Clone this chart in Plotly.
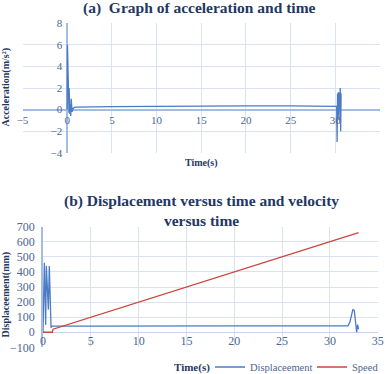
import plotly.graph_objects as go

W, H = 385, 374

# ---- data (a) acceleration ----
t_acc = [0.0, 0.03, 0.2, 0.22, 0.3, 0.35, 0.4, 0.45, 0.55, 0.65, 0.8, 1.0, 5.0, 10.0, 15.0, 20.0, 25.0, 30.0,
         30.15, 30.2, 30.25, 30.3, 30.35, 30.4, 30.45, 30.5, 30.55, 30.6, 30.65]
acc = [0.0, 6.0, -0.3, 2.0, -0.4, 0.5, -0.6, 1.0, -0.2, 0.1, 0.2, 0.22, 0.28, 0.32, 0.34, 0.35, 0.35, 0.33,
       0.3, -3.0, 1.5, -0.5, 1.6, -1.0, 1.6, 0.2, 2.0, -2.0, 1.5]

# ---- data (b) displacement and speed ----
t_disp = [0.0, 0.14, 0.28, 0.35, 0.56, 0.66, 0.84, 0.95, 5.0, 10.0, 15.0, 20.0, 25.0, 30.0, 31.9,
          32.1, 32.25, 32.4, 32.55, 32.65, 32.8, 32.9, 33.0]
disp = [0.0, 460, 50, 440, 150, 440, 30, 40, 40, 42, 42, 42, 42, 42, 42,
        70, 120, 150, 145, 90, 0, 50, 20]
t_speed = [0.0, 0.98, 1.05, 33.0]
speed = [0.0, 0.0, 20.0, 660.0]

acc_x_ticks = [-5, 0, 5, 10, 15, 20, 25, 30, 35]
acc_y_ticks = [-4, -2, 0, 2, 4, 6, 8]
disp_x_ticks = [0, 5, 10, 15, 20, 25, 30, 35]
disp_y_ticks = [-100, 0, 100, 200, 300, 400, 500, 600, 700]

BLUE = "#4A7BC4"
RED = "#C9463D"
GRID = "#D9E3F4"
ZERO = "#A3BCE4"
TICK = "#4E6592"
NAVY = "#1F3864"
SERIF = "Liberation Serif"

def fx(px):
    return px / W

def fy(py):
    return 1 - py / H

# plot areas in pixels
ax_dom = [fx(22.5), fx(380)]
ay_dom = [fy(152.7), fy(23.3)]
bx_dom = [fx(43), fx(377.7)]
by_dom = [fy(347.3), fy(226.7)]

fig = go.Figure()
fig.add_trace(go.Scatter(x=t_acc, y=acc, mode="lines", line=dict(color=BLUE, width=1.3),
                         xaxis="x", yaxis="y", showlegend=False, name="Acceleration"))
fig.add_trace(go.Scatter(x=t_disp, y=disp, mode="lines", line=dict(color=BLUE, width=1.3),
                         xaxis="x2", yaxis="y2", name="Displaceement"))
fig.add_trace(go.Scatter(x=t_speed, y=speed, mode="lines", line=dict(color=RED, width=1.3),
                         xaxis="x2", yaxis="y2", name="Speed"))

tickfont_a = dict(family=SERIF, size=11, color=TICK)
tickfont_b = dict(family=SERIF, size=12, color=TICK)

# position of zero crossings
a_x0_pos = ax_dom[0] + (0 - (-5)) / 40 * (ax_dom[1] - ax_dom[0])
a_y0_pos = ay_dom[0] + (0 - (-4)) / 12 * (ay_dom[1] - ay_dom[0])
b_y0_pos = by_dom[0] + (0 - (-100)) / 800 * (by_dom[1] - by_dom[0])

fig.update_layout(
    width=W, height=H, margin=dict(l=0, r=0, t=0, b=0, autoexpand=False),
    paper_bgcolor="white", plot_bgcolor="white",
    font=dict(family=SERIF, color=TICK),
    xaxis=dict(domain=ax_dom, range=[-5, 35], tickvals=acc_x_ticks, showgrid=True, gridcolor=GRID,
               gridwidth=1, zeroline=True, zerolinecolor=ZERO, zerolinewidth=2, showline=False,
               anchor="free", position=a_y0_pos, tickfont=tickfont_a, ticks="", ticklabelstandoff=2,
               fixedrange=True),
    yaxis=dict(domain=ay_dom, range=[-4, 8], tickvals=acc_y_ticks, showgrid=True, gridcolor=GRID,
               gridwidth=1, zeroline=True, zerolinecolor=ZERO, zerolinewidth=1.5, showline=False,
               anchor="free", position=a_x0_pos, tickfont=tickfont_a, ticks="", ticklabelstandoff=5,
               fixedrange=True),
    xaxis2=dict(domain=bx_dom, range=[0, 35], tickvals=disp_x_ticks, showgrid=True, gridcolor=GRID,
                gridwidth=1, zeroline=False, showline=False,
                anchor="free", position=b_y0_pos, tickfont=tickfont_b, ticks="", fixedrange=True),
    yaxis2=dict(domain=by_dom, range=[-100, 700], tickvals=disp_y_ticks, showgrid=True, gridcolor=GRID,
                gridwidth=1, zeroline=True, zerolinecolor="#C5D5EE", zerolinewidth=1,
                showline=True, linecolor=ZERO, linewidth=1.5,
                anchor="x2", tickfont=tickfont_b, ticks="", ticklabelstandoff=4, fixedrange=True),
    legend=dict(orientation="h", x=fx(210), xanchor="left", y=fy(367), yanchor="middle",
                font=dict(family=SERIF, size=10.5, color=TICK), bgcolor="rgba(0,0,0,0)",
                itemwidth=30, entrywidth=57, entrywidthmode="pixels", tracegroupgap=0),
    annotations=[
        dict(text="<b>(a)  Graph of acceleration and time</b>", x=fx(200), y=fy(8.5), xref="paper", yref="paper",
             showarrow=False, xanchor="center", yanchor="middle",
             font=dict(family=SERIF, size=15.5, color=NAVY)),
        dict(text="<b>(b) Displacement versus time and velocity<br>versus time</b>", x=fx(202), y=fy(210.5),
             xref="paper", yref="paper", showarrow=False, xanchor="center", yanchor="middle",
             font=dict(family=SERIF, size=15.5, color=NAVY)),
        dict(text="<b>Acceleration(m/s²)</b>", x=fx(5.5), y=fy(87), xref="paper", yref="paper", textangle=-90,
             showarrow=False, xanchor="center", yanchor="middle",
             font=dict(family=SERIF, size=10, color=NAVY)),
        dict(text="<b>Time(s)</b>", x=fx(202), y=fy(163), xref="paper", yref="paper",
             showarrow=False, xanchor="center", yanchor="middle",
             font=dict(family=SERIF, size=10, color=NAVY)),
        dict(text="<b>Displaceement(mm)</b>", x=fx(5.7), y=fy(294.7), xref="paper", yref="paper", textangle=-90,
             showarrow=False, xanchor="center", yanchor="middle",
             font=dict(family=SERIF, size=10, color=NAVY)),
        dict(text="<b>Time(s)</b>", x=fx(192), y=fy(367), xref="paper", yref="paper",
             showarrow=False, xanchor="center", yanchor="middle",
             font=dict(family=SERIF, size=11, color=NAVY)),
    ],
)

fig.write_html("out.html", config={"displayModeBar": False},
               post_script="document.body.style.margin='0';")
